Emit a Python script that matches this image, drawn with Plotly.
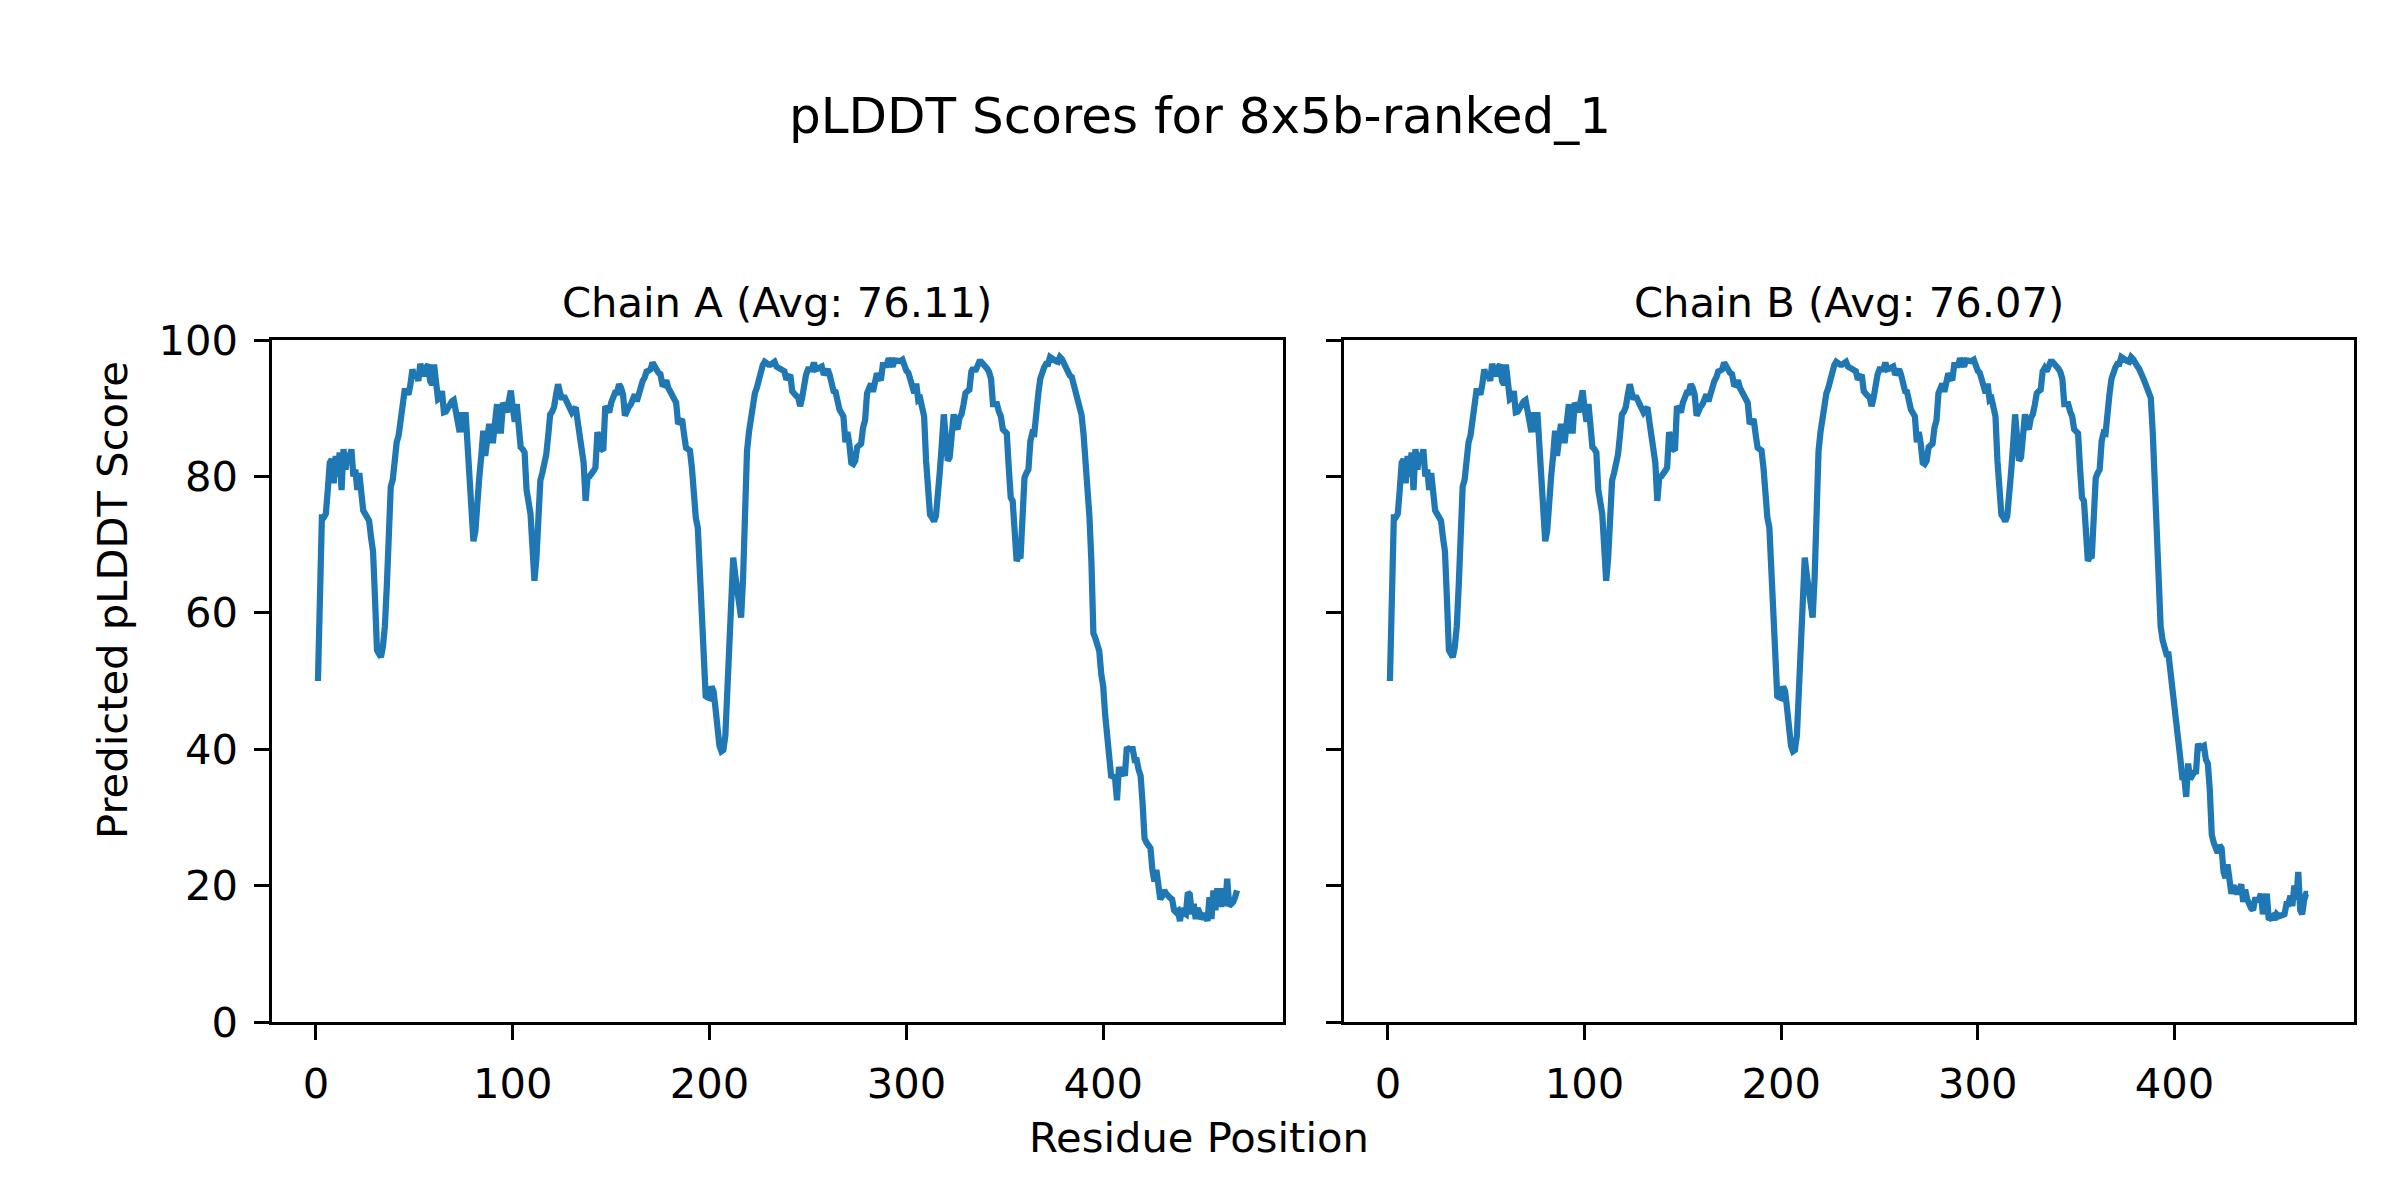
import plotly.graph_objects as go

# ---- data ----
chain_a_core = [
    50, 67, 74, 74, 74.5, 78, 82, 82.5, 79, 83,
    80, 83.5, 78, 84, 81, 83.5, 82, 84, 80, 81,
    78, 80.5, 76.5, 75, 74.5, 74, 73.5, 71, 69, 62,
    54.5, 54, 53.5, 55, 58, 64, 71, 78.5, 79.5, 83.5,
    85, 86, 88, 89.5, 92.5, 92.5, 92, 93.5, 95.7, 94.5,
    95, 94, 96.5, 95.5, 94.7, 96, 96.4, 94, 93.5, 96.4,
    94, 91.3, 91.5, 92.5, 89.4, 89.5, 90, 90.8, 91, 91.2,
    89.6, 88, 86.5, 89.4, 86.5, 89.4, 83.7, 78.4, 76.5, 70.5,
    72, 78, 80, 83, 86.7, 83, 86, 87.7, 85.3, 85.3,
    88, 90.6, 86.7, 86.7, 90.8, 89.8, 89.4, 91, 92.6, 90,
    88, 90.6, 87, 84.3, 84, 83.5, 78, 76.5, 74.5, 69.6,
    64.7, 68, 74, 79.4, 80.5, 81.8, 83.2, 86, 89.1, 89.5,
    90.2, 92, 93.5, 92.3, 91.3, 91.8, 91.3, 90.8, 90, 89.4,
    89.8, 90.1, 88, 85.5, 83.2, 82, 76.4, 79.9, 80, 80.3,
    80.8, 81.3, 86.5, 85.5, 84, 83.8, 90.3, 89.8, 89.4, 90.8,
    91.8, 92.3, 92.3, 93.5, 93, 92, 88.9, 89.8, 90.2, 90.6,
    91.5, 92, 91, 92, 93.5, 94, 94.5, 95.4, 95.5, 95.7,
    96.7, 96, 95.5, 95.2, 95, 93.5, 93.4, 94.1, 93, 92.4,
    91.5, 91, 90.8, 87.7, 88, 88.4, 86.2, 84.2, 84, 83.8,
    81.3, 76.4, 73.9, 72.5, 66.7, 57, 53, 47.8, 47.6, 47.5,
    49.2, 48.5, 46, 42.5, 40.5, 39.7, 39.9, 42, 48, 55,
    63, 68.1, 65.6, 63, 61, 59.3, 65, 76, 83.7, 86.5,
    88.5, 91, 92.2, 93, 94.4, 95.7, 96.3, 96.8, 96.5, 96.4,
    96.4, 96.6, 96.8, 96.1, 95.9, 95.7, 95.5, 95.4, 94.2, 94.6,
    94.9, 92.5, 92, 91.8, 91.6, 90.3, 91.5, 93.5, 94.9, 95.7,
    95.7, 95.7, 96.7, 95.7, 95.8, 95.9, 96.1, 94.9, 95.5, 95.7,
    94.9, 93.2, 92.5, 92.4, 90.3, 89.8, 89.3, 88.8, 85, 86.5,
    84.8, 82, 81.8, 82.3, 84.3, 84.5, 84.8, 87.2, 88.2, 92.2,
    93, 93.6, 92.4, 94.6, 95.1, 94.5, 94.1, 96.3, 96.3, 96.3,
    97.3, 96.5, 96.1, 97, 96.9, 96.8, 96.9, 97.1, 95.8, 95.5,
    95.2, 94.1, 92.4, 92.2, 93.6, 91.2, 91.4, 90, 88.8, 82.3,
    78.4, 74.4, 74, 73.4, 74.2, 79.3, 80.8, 84.8, 89.1, 85.7,
    82.3, 82.8, 86.7, 89.1, 87.5, 86.9, 88.6, 89.1, 90.5, 92.2,
    92.5, 92.7, 95.4, 95.9, 95.4, 96, 96.8, 96.8, 96.5, 96.3,
    95.8, 95.3, 94.3, 90.6, 90.6, 90.6, 89.5, 88.8, 86.9, 86.5,
    86.3, 81.3, 76.9, 76.4, 70.5, 67.6, 68.2, 68.3, 74, 79.8,
    80.5, 81, 85.2, 86.4, 86.3, 90.1, 92.1, 94.3, 95.5, 96,
    96.5, 96.5, 97.5, 97.2, 97, 96.9, 96.8, 97.5, 97.2, 96.5,
]

chain_a_tail = [
    96, 95.1, 94.8, 94.6, 93.5, 92.5, 91.1, 90.5, 89, 86.2,
    82, 79.3, 74.1, 67.5, 57, 56.3, 55, 54.4, 51, 49.2,
    45, 42.6, 39.4, 36.1, 36, 35.8, 32.5, 37.4, 36.1, 36.8,
    36.1, 40.3, 40, 40, 40, 38.4, 38.4, 37, 36.1, 32.1,
    26.9, 26.3, 25.9, 25.5, 22.3, 20.6, 22.3, 19.3, 18, 18.5,
    19.3, 18.8, 18.3, 18.2, 18, 16.4, 16.1, 16.3, 14.8, 16.7,
    16, 15.8, 19, 18.7, 15.8, 17.3, 15.1, 16.7, 16, 15.1,
    15.5, 15.8, 14.8, 18.3, 15.1, 19.3, 16.4, 19.6, 17.3, 17.3,
    19.6, 17, 21, 17, 17.3, 17.6, 18.3, 19.3,
]

chain_b_tail = [
    96.2, 95.8, 95.3, 94.5, 93.8, 93, 92.3, 91.5, 86.4, 79,
    72, 64, 58, 56, 54.5, 53.9, 53.9, 51, 49.8, 47,
    43, 39.6, 38.7, 35.9, 35.9, 33, 37.9, 35.6, 36.4, 36.6,
    36.7, 40.8, 40.2, 40.4, 40.5, 38.5, 37.9, 34.1, 27.5, 26.3,
    25.5, 24.8, 25.9, 25.5, 22, 21.1, 23.1, 20.2, 18.8, 20,
    19.5, 18.8, 19.4, 20.2, 17.6, 19.4, 18, 17, 16.7, 16.4,
    17.9, 17.9, 17.9, 18.8, 15.8, 17.3, 18.8, 15, 15.2, 15.5,
    15, 15.8, 15.5, 15.5, 15.7, 15.8, 17.3, 17.3, 18.5, 17,
    20, 17.9, 22, 16.4, 15.8, 17.9, 18.8, 18.8,
]

chain_a = chain_a_core + chain_a_tail
chain_b = chain_a_core + chain_b_tail
residues = list(range(1, len(chain_a) + 1))

x_ticks = [0, 100, 200, 300, 400]
y_ticks = [0, 20, 40, 60, 80, 100]

main_title = "pLDDT Scores for 8x5b-ranked_1"
title_a = "Chain A (Avg: 76.11)"
title_b = "Chain B (Avg: 76.07)"
x_label = "Residue Position"
y_label = "Predicted pLDDT Score"

# ---- figure ----
FONT = "DejaVu Sans"
TICK_PX = 41.67
LINE_COLOR = "#1f77b4"

fig = go.Figure()
fig.add_trace(go.Scatter(x=residues, y=chain_a, mode="lines",
                         line=dict(color=LINE_COLOR, width=6.25),
                         xaxis="x", yaxis="y", showlegend=False))
fig.add_trace(go.Scatter(x=residues, y=chain_b, mode="lines",
                         line=dict(color=LINE_COLOR, width=6.25),
                         xaxis="x2", yaxis="y2", showlegend=False))

n = len(residues)
pad = 0.05 * (n - 1)
xr = [1 - pad, n + pad]

axis_common = dict(ticks="outside", ticklen=14.6, tickwidth=3.3, tickcolor="black",
                   showline=True, linecolor="black", linewidth=3.3, mirror=True,
                   showgrid=False, zeroline=False, automargin=False,
                   tickfont=dict(family=FONT, size=TICK_PX, color="black"),
                   ticklabelstandoff=8)

ydom = [1 - 1022 / 1200, 1 - 340 / 1200]
xdomA = [272 / 2400, 1283 / 2400]
xdomB = [1344 / 2400, 2354 / 2400]

fig.update_layout(
    template="none",
    width=2400, height=1200, autosize=False,
    margin=dict(l=0, r=0, t=0, b=0, pad=0),
    paper_bgcolor="white", plot_bgcolor="white",
    font=dict(family=FONT, color="black"),
    xaxis=dict(domain=xdomA, anchor="y", range=xr, tickmode="array", tickvals=x_ticks, **axis_common),
    yaxis=dict(domain=ydom, anchor="x", range=[0, 100], tickmode="array", tickvals=y_ticks, **axis_common),
    xaxis2=dict(domain=xdomB, anchor="y2", range=xr, tickmode="array", tickvals=x_ticks, **axis_common),
    yaxis2=dict(domain=ydom, anchor="x2", range=[0, 100], tickmode="array", tickvals=y_ticks,
                showticklabels=False, **axis_common),
    annotations=[
        dict(text=main_title, x=0.5, y=1 - 116 / 1200, xref="paper", yref="paper",
             showarrow=False, xanchor="center", yanchor="middle",
             font=dict(family=FONT, size=50, color="black")),
        dict(text=title_a, x=sum(xdomA) / 2, y=1 - 303 / 1200, xref="paper", yref="paper",
             showarrow=False, xanchor="center", yanchor="middle",
             font=dict(family=FONT, size=TICK_PX, color="black")),
        dict(text=title_b, x=sum(xdomB) / 2, y=1 - 303 / 1200, xref="paper", yref="paper",
             showarrow=False, xanchor="center", yanchor="middle",
             font=dict(family=FONT, size=TICK_PX, color="black")),
        dict(text=x_label, x=0.4996, y=1 - 1137 / 1200, xref="paper", yref="paper",
             showarrow=False, xanchor="center", yanchor="middle",
             font=dict(family=FONT, size=TICK_PX, color="black")),
        dict(text=y_label, x=112 / 2400, y=0.5, xref="paper", yref="paper",
             showarrow=False, xanchor="center", yanchor="middle", textangle=-90,
             font=dict(family=FONT, size=TICK_PX, color="black")),
    ],
)

fig.write_html("out.html",
               config={"displayModeBar": False},
               post_script="document.body.style.margin='0';document.body.style.overflow='hidden';")
